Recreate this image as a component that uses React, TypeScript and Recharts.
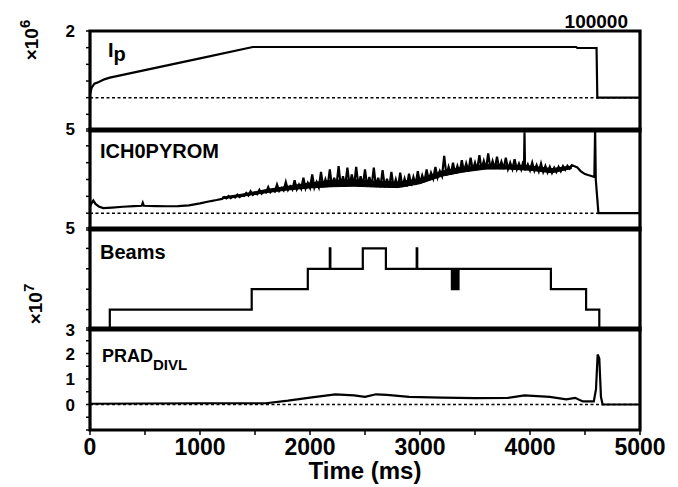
import React from 'react';
import { ComposedChart, Line, Area, XAxis, YAxis, ReferenceLine, ReferenceArea } from 'recharts';

const FONT = "'Liberation Sans', Arial, Helvetica, sans-serif";
const NARROW = "'Liberation Sans Narrow', 'Arial Narrow', 'Liberation Sans', sans-serif";

// time (ms) axis
const xMajorTicks = [0, 500, 1000, 1500, 2000, 2500, 3000, 3500, 4000, 4500, 5000];
const xMinorTicks = Array.from({ length: 101 }, (_, i) => i * 50);

// Ip (x10^6)
const ipData: [number, number][] = [
  [0, 0.1], [15, 0.3], [40, 0.42], [80, 0.47], [130, 0.55], [180, 0.6], [1000, 1.18], [1480, 1.52],
  [4420, 1.52], [4430, 1.49], [4605, 1.49], [4612, 0.0], [5000, 0.0],
];

// ICH0PYROM
const ichEarly: [number, number][] = [
  [0, 0.4], [15, 0.6], [30, 0.75], [50, 0.55], [80, 0.4], [120, 0.3], [200, 0.33], [300, 0.38], [400, 0.42],
  [470, 0.44], [480, 0.62], [490, 0.44], [600, 0.42], [700, 0.41], [800, 0.42], [900, 0.46], [1000, 0.58],
  [1100, 0.72], [1150, 0.78],
];
const ichNoisy: [number, number][] = [
  [1200, 0.85], [1220, 0.95], [1240, 0.88], [1260, 1.02], [1280, 0.9], [1300, 0.98], [1320, 0.93], [1340, 1.1], [1360, 0.96], [1380, 1.05],
  [1400, 1.02], [1420, 1.2], [1440, 1.05], [1460, 1.3], [1480, 1.08], [1500, 1.18], [1520, 1.12], [1540, 1.38], [1560, 1.15], [1580, 1.28],
  [1600, 1.22], [1620, 1.55], [1640, 1.25], [1660, 1.4], [1680, 1.28], [1700, 1.7], [1720, 1.32], [1740, 1.5], [1760, 1.35], [1780, 1.85],
  [1800, 1.38], [1820, 1.6], [1840, 1.4], [1860, 1.95], [1880, 1.42], [1900, 1.7], [1920, 1.45], [1940, 2.1], [1960, 1.47], [1980, 1.8],
  [2000, 1.5], [2020, 2.3], [2040, 1.52], [2060, 1.85], [2080, 1.53], [2100, 2.45], [2120, 1.55], [2140, 2.0], [2160, 1.56], [2180, 2.6],
  [2200, 1.57], [2220, 2.1], [2240, 1.58], [2260, 2.8], [2280, 1.6], [2300, 2.2], [2320, 1.6], [2340, 2.7], [2360, 1.62], [2380, 2.3],
  [2400, 1.62], [2420, 2.75], [2440, 1.6], [2460, 2.2], [2480, 1.6], [2500, 2.6], [2520, 1.58], [2540, 2.15], [2560, 1.57], [2580, 2.7],
  [2600, 1.55], [2620, 2.1], [2640, 1.54], [2660, 2.55], [2680, 1.53], [2700, 2.05], [2720, 1.52], [2740, 2.45], [2760, 1.52], [2780, 2.0],
  [2800, 1.52], [2820, 2.4], [2840, 1.55], [2860, 2.05], [2880, 1.58], [2900, 2.35], [2920, 1.62], [2940, 2.15], [2960, 1.68], [2980, 2.5],
  [3000, 1.75], [3020, 2.25], [3040, 1.85], [3060, 2.6], [3080, 1.95], [3100, 2.4], [3120, 2.05], [3140, 2.75], [3160, 2.12], [3180, 2.5],
  [3200, 2.2], [3220, 3.4], [3240, 2.25], [3260, 2.75], [3280, 2.3], [3300, 3.0], [3320, 2.35], [3340, 2.8], [3360, 2.4], [3380, 3.15],
  [3400, 2.45], [3420, 2.95], [3440, 2.5], [3460, 3.3], [3480, 2.55], [3500, 3.0], [3520, 2.58], [3540, 3.45], [3560, 2.6], [3580, 3.1],
  [3600, 2.62], [3620, 3.55], [3640, 2.63], [3660, 3.1], [3680, 2.63], [3700, 3.35], [3720, 2.63], [3740, 3.05], [3760, 2.62], [3780, 3.3],
  [3800, 2.62], [3820, 3.0], [3840, 2.62], [3860, 3.2], [3880, 2.61], [3900, 2.95], [3920, 2.6], [3940, 3.1], [3945, 2.6], [3950, 4.8],
  [3955, 2.6], [3960, 2.6], [3980, 2.9],
  [4000, 2.55], [4020, 3.0], [4040, 2.52], [4060, 2.85], [4080, 2.48], [4100, 2.95], [4120, 2.45], [4140, 2.8], [4160, 2.42], [4180, 2.75],
  [4200, 2.4], [4220, 2.7], [4240, 2.45], [4260, 2.75], [4280, 2.5], [4300, 2.8], [4320, 2.58], [4340, 2.82], [4360, 2.65], [4380, 2.85],
];
const ichLate: [number, number][] = [
  [4400, 2.8], [4430, 2.72], [4460, 2.5], [4500, 2.32], [4550, 2.22], [4585, 2.15], [4592, 5.0], [4598, 2.0],
  [4610, 1.0], [4622, 0.0], [5000, 0.0],
];
// dense core of the noisy ICH trace: [time, low, high]
const ichBand: [number, number, number][] = [
  [1200, 0.85, 0.95], [1400, 1.02, 1.15], [1600, 1.22, 1.4], [1800, 1.38, 1.6], [2000, 1.5, 1.8], [2200, 1.57, 1.95],
  [2400, 1.6, 2.0], [2600, 1.55, 1.9], [2800, 1.52, 1.85], [3000, 1.75, 2.05], [3200, 2.2, 2.5], [3400, 2.45, 2.75],
  [3600, 2.62, 2.9], [3800, 2.62, 2.85], [4000, 2.55, 2.8], [4200, 2.4, 2.65], [4380, 2.65, 2.8],
];

// Beams (x10^7)
const beamsData: [number, number][] = [
  [0, 3.0], [180, 3.0], [180, 3.4], [1470, 3.4], [1470, 3.8], [1980, 3.8], [1980, 4.2], [2180, 4.2], [2180, 4.6],
  [2185, 4.6], [2185, 4.2], [2480, 4.2], [2480, 4.6], [2690, 4.6], [2690, 4.2], [2970, 4.2], [2970, 4.6], [2975, 4.6],
  [2975, 4.2], [3290, 4.2], [3290, 3.8], [3300, 3.8], [3300, 4.2], [3310, 4.2], [3310, 3.8], [3320, 3.8], [3320, 4.2],
  [3330, 4.2], [3330, 3.8], [3340, 3.8], [3340, 4.2], [3345, 4.2], [3345, 3.8], [3350, 3.8], [3350, 4.2], [4190, 4.2],
  [4190, 3.8], [4510, 3.8], [4510, 3.4], [4630, 3.4], [4630, 3.0], [5000, 3.0],
];

// PRAD_DIVL
const pradData: [number, number][] = [
  [0, 0.03], [500, 0.04], [1000, 0.05], [1600, 0.05], [1800, 0.15], [2000, 0.27], [2230, 0.4], [2400, 0.36],
  [2500, 0.3], [2600, 0.4], [2700, 0.38], [2900, 0.3], [3200, 0.27], [3500, 0.25], [3800, 0.26], [3950, 0.36],
  [4180, 0.3], [4330, 0.2], [4410, 0.26], [4480, 0.12], [4580, 0.12], [4600, 0.6], [4615, 1.96], [4630, 1.8],
  [4645, 0.3], [4660, 0.0], [5000, 0.0],
];

const toPts = (arr: [number, number][]) => arr.map(([t, v]) => ({ t, v }));
const toBand = (arr: [number, number, number][]) => arr.map(([t, lo, hi]) => ({ t, r: [lo, hi] }));

const LeftTick = (props: any) => {
  const { x, y, payload, labels } = props;
  if (!labels.includes(payload.value)) return <g />;
  return (
    <text x={x} y={y} dy={6} textAnchor="end" fontSize={17} fontWeight="bold" fontFamily={FONT} fill="#000">
      {payload.value}
    </text>
  );
};

const BottomTick = (props: any) => {
  const { x, y, payload } = props;
  if (payload.value % 1000 !== 0) return <g />;
  return (
    <text x={x} y={y} dy={18} textAnchor="middle" fontSize={23} fontWeight="bold" fontFamily={NARROW} fill="#000">
      {payload.value}
    </text>
  );
};

type PanelProps = {
  top: number;
  height: number;
  domain: [number, number];
  yTicks: number[];
  yLabels: number[];
  series: [number, number][][];
  band?: [number, number, number][];
  zero: boolean;
  last?: boolean;
};

const Panel = ({ top, height, domain, yTicks, yLabels, series, band, zero, last }: PanelProps) => {
  const bottom = last ? 50 : 18;
  return (
    <div style={{ position: 'absolute', left: 0, top: top - 20 }}>
      <ComposedChart width={678} height={20 + height + bottom + (last ? 3 : 2)} margin={{ top: 20, right: 38, left: 50, bottom }}>
        <XAxis xAxisId="minor" type="number" dataKey="t" domain={[0, 5000]} ticks={xMinorTicks} interval={0}
          tick={false} tickSize={4.5} mirror height={1} axisLine={false} tickLine={{ stroke: '#000', strokeWidth: 1 }} allowDataOverflow />
        <XAxis xAxisId="major" type="number" dataKey="t" domain={[0, 5000]} ticks={xMajorTicks} interval={0}
          tick={false} tickSize={8.5} mirror height={1} axisLine={false} tickLine={{ stroke: '#000', strokeWidth: 1.5 }} allowDataOverflow />
        {last && (
          <XAxis xAxisId="lab" type="number" dataKey="t" domain={[0, 5000]} ticks={xMajorTicks} interval={0}
            tick={<BottomTick />} tickSize={5} tickMargin={2} height={1} axisLine={false}
            tickLine={{ stroke: '#000', strokeWidth: 1.5 }} allowDataOverflow />
        )}
        <YAxis yAxisId="y" type="number" domain={domain} ticks={yTicks} interval={0} width={40} tickSize={4}
          tickMargin={11} axisLine={false} tickLine={{ stroke: '#000', strokeWidth: 1.5 }}
          tick={(p: any) => <LeftTick {...p} labels={yLabels} />} allowDataOverflow />
        {zero && (
          <ReferenceLine xAxisId="major" yAxisId="y" y={0} stroke="#000" strokeWidth={1.5} strokeDasharray="3 2.5" />
        )}
        {band && (
          <Area xAxisId="major" yAxisId="y" data={toBand(band)} dataKey="r" type="linear" stroke="#000" strokeWidth={1}
            fill="#000" fillOpacity={1} dot={false} activeDot={false} isAnimationActive={false} />
        )}
        {series.map((s, i) => (
          <Line key={i} xAxisId="major" yAxisId="y" data={toPts(s)} dataKey="v" type="linear" stroke="#000"
            strokeWidth={2.2} dot={false} activeDot={false} isAnimationActive={false} />
        ))}
        <ReferenceArea xAxisId="major" yAxisId="y" x1={0} x2={5000} y1={domain[0]} y2={domain[1]}
          fill="none" fillOpacity={0} stroke="#000" strokeWidth={3.2} />
      </ComposedChart>
    </div>
  );
};

export default function App() {
  return (
    <div style={{ position: 'absolute', left: 0, top: 0, width: 678, height: 487, background: '#fff' }}>
      <Panel top={31} height={98} domain={[-1, 2]} yTicks={[-1, -0.5, 0, 0.5, 1, 1.5, 2]} yLabels={[2]}
        series={[ipData]} zero />
      <Panel top={129} height={99} domain={[-1, 5]} yTicks={[-1, 0, 1, 2, 3, 4, 5]} yLabels={[5]}
        series={[[...ichEarly, ...ichNoisy, ...ichLate]]} band={ichBand} zero />
      <Panel top={228} height={100} domain={[3, 5]} yTicks={[3, 3.4, 3.8, 4.2, 4.6, 5]} yLabels={[3, 5]}
        series={[beamsData]} zero={false} />
      <Panel top={328} height={100} domain={[-1, 3]} yTicks={[-1, -0.5, 0, 0.5, 1, 1.5, 2, 2.5, 3]} yLabels={[0, 1, 2]}
        series={[pradData]} zero last />
      <svg width={678} height={487} style={{ position: 'absolute', left: 0, top: 0, pointerEvents: 'none' }}>
        <g fontFamily={FONT} fontWeight="bold" fill="#000">
          <text transform="rotate(-90 38 40)" x={38} y={40} textAnchor="middle" fontSize={19}>
            ×10<tspan dy={-8} fontSize={15}>6</tspan>
          </text>
          <text transform="rotate(-90 42 304)" x={42} y={304} textAnchor="middle" fontSize={19}>
            ×10<tspan dy={-8} fontSize={15}>7</tspan>
          </text>
          <text x={628} y={28} textAnchor="end" fontSize={19}>100000</text>
          <text x={108} y={57} fontSize={20}>I<tspan dy={4} fontSize={20}>p</tspan></text>
          <text x={100} y={158} fontSize={20}>ICH0PYROM</text>
          <text x={100} y={259} fontSize={20}>Beams</text>
          <text x={102} y={362} fontSize={18}>PRAD<tspan dy={8} fontSize={15}>DIVL</tspan></text>
          <text x={365} y={479} textAnchor="middle" fontSize={24}>Time (ms)</text>
        </g>
      </svg>
    </div>
  );
}
